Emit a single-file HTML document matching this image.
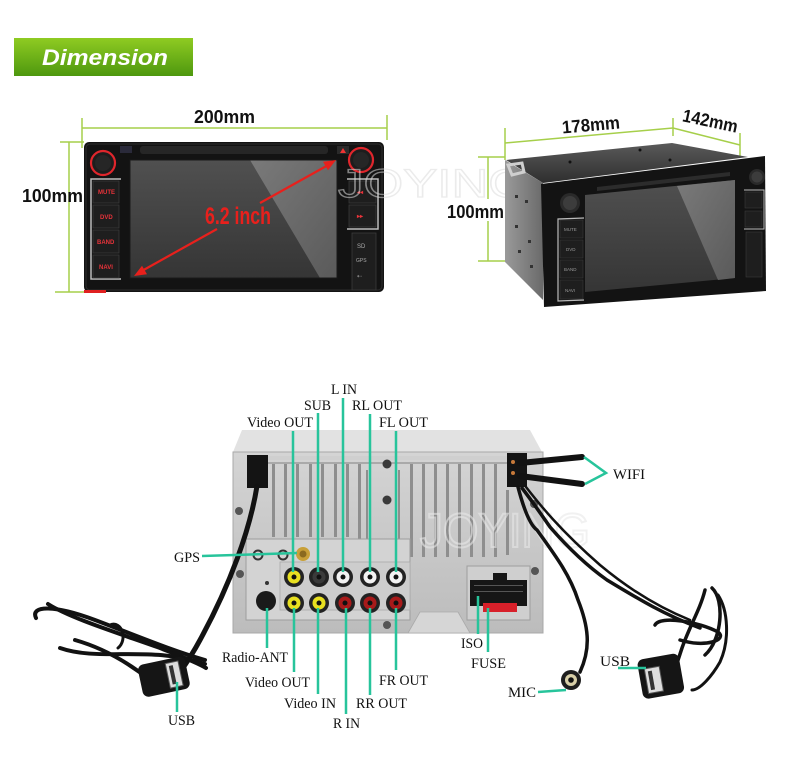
<!DOCTYPE html>
<html><head><meta charset="utf-8"><style>
html,body{margin:0;padding:0;background:#fff;}
svg{display:block}
.lb{font-family:"Liberation Serif",serif;font-size:15px;fill:#111;}
.dm{font-family:"Liberation Sans",sans-serif;font-weight:bold;font-size:18px;fill:#111;}
.bt{font-family:"Liberation Sans",sans-serif;font-weight:bold;font-size:6px;fill:#e8333a;}
</style></head><body>
<svg width="800" height="766" viewBox="0 0 800 766" xmlns="http://www.w3.org/2000/svg">
<defs>
<linearGradient id="ban" x1="0" y1="0" x2="0" y2="1"><stop offset="0" stop-color="#8fcb22"/><stop offset="1" stop-color="#4e980f"/></linearGradient>
<linearGradient id="scr" x1="0" y1="0" x2="0" y2="1"><stop offset="0" stop-color="#505050"/><stop offset="1" stop-color="#353535"/></linearGradient>
<linearGradient id="scrl" x1="0" y1="0" x2="1" y2="1"><stop offset="0" stop-color="#7a7a7a"/><stop offset="1" stop-color="#5a5a5a"/></linearGradient>
<linearGradient id="metal" x1="0" y1="0" x2="0" y2="1"><stop offset="0" stop-color="#d4d4d4"/><stop offset="1" stop-color="#bcbcbc"/></linearGradient>
<linearGradient id="side" x1="0" y1="0" x2="1" y2="0"><stop offset="0" stop-color="#9a9a9a"/><stop offset="1" stop-color="#6a6a6a"/></linearGradient>
<linearGradient id="top2" x1="0" y1="0" x2="0" y2="1"><stop offset="0" stop-color="#5a5a5a"/><stop offset="1" stop-color="#2e2e2e"/></linearGradient>
</defs>

<!-- Banner -->
<rect x="14" y="38" width="179" height="38" fill="url(#ban)"/>
<text x="42" y="65" font-family="Liberation Sans,sans-serif" font-weight="bold" font-style="italic" font-size="22" fill="#fff" textLength="126" lengthAdjust="spacingAndGlyphs">Dimension</text>

<!-- ===== Front unit 1 ===== -->
<g stroke="#a6cf4a" stroke-width="1.5" fill="none">
<line x1="82" y1="128" x2="387" y2="128"/>
<line x1="82" y1="118" x2="82" y2="148"/>
<line x1="387" y1="115" x2="387" y2="140"/>
<line x1="69" y1="142" x2="69" y2="292"/>
<line x1="60" y1="142" x2="84" y2="142"/>
<line x1="55" y1="292" x2="84" y2="292"/>
</g>
<text class="dm" x="194" y="123" textLength="61" lengthAdjust="spacingAndGlyphs">200mm</text>
<text class="dm" x="22" y="202" textLength="61" lengthAdjust="spacingAndGlyphs">100mm</text>

<rect x="84" y="142" width="300" height="150" rx="5" fill="#131313"/>
<rect x="86" y="144" width="296" height="146" rx="4" fill="none" stroke="#2c2c2c" stroke-width="1"/>
<rect x="84" y="290" width="22" height="3" fill="#e02020"/>
<rect x="140" y="146" width="188" height="8" rx="3" fill="#262626"/>
<rect x="120" y="146" width="12" height="7" fill="#2a2a3a"/>
<rect x="337" y="146" width="12" height="8" fill="#2a2a2a"/>
<polygon points="343,148 346,153 340,153" fill="#e33"/>
<rect x="130" y="160" width="207" height="118" fill="url(#scr)"/>
<polygon points="250,160 337,160 337,278 320,278" fill="url(#scrl)"/>
<rect x="130" y="160" width="207" height="118" fill="none" stroke="#1a1a1a" stroke-width="1"/>
<circle cx="103" cy="163" r="12" fill="#1d1d1d" stroke="#e0262c" stroke-width="2.2"/>
<circle cx="103" cy="163" r="8" fill="#262626"/>
<circle cx="361" cy="160" r="12" fill="#1d1d1d" stroke="#e0262c" stroke-width="2.2"/>
<circle cx="361" cy="160" r="8" fill="#262626"/>
<path d="M121,179 L91,179 L91,279 L121,279" fill="none" stroke="#bdbdbd" stroke-width="1.5"/>
<g fill="#1e1e1e" stroke="#3a3a3a" stroke-width="0.8">
<rect x="93" y="181" width="26" height="22"/>
<rect x="93" y="205" width="26" height="23"/>
<rect x="93" y="230" width="26" height="23"/>
<rect x="93" y="255" width="26" height="23"/>
</g>
<text class="bt" x="98" y="194">MUTE</text>
<text class="bt" x="100" y="219">DVD</text>
<text class="bt" x="97" y="244">BAND</text>
<text class="bt" x="99" y="269">NAVI</text>
<path d="M347,179 L378,179 L378,229 L347,229" fill="none" stroke="#bdbdbd" stroke-width="1.5"/>
<g fill="#1e1e1e" stroke="#3a3a3a" stroke-width="0.8">
<rect x="349" y="181" width="27" height="22"/>
<rect x="349" y="205" width="27" height="22"/>
<rect x="352" y="233" width="24" height="57"/>
</g>
<text class="bt" x="357" y="194">◂◂</text>
<text class="bt" x="357" y="218">▸▸</text>
<text x="357" y="248" font-family="Liberation Sans,sans-serif" font-size="6" fill="#aaa">SD</text>
<text x="356" y="262" font-family="Liberation Sans,sans-serif" font-size="5" fill="#aaa">GPS</text>
<text x="357" y="278" font-family="Liberation Sans,sans-serif" font-size="6" fill="#aaa">⇠</text>
<g stroke="#e8201c" stroke-width="2.2">
<line x1="140" y1="272" x2="217" y2="229"/>
<line x1="260" y1="203" x2="330" y2="164"/>
</g>
<polygon points="134,276 147,274.3 142,265.7" fill="#e8201c"/>
<polygon points="336,160 328,170.3 323,161.7" fill="#e8201c"/>
<text x="205" y="224" font-family="Liberation Sans,sans-serif" font-weight="bold" font-size="24" fill="#e8201c" textLength="66" lengthAdjust="spacingAndGlyphs">6.2 inch</text>

<text x="338" y="197" font-family="Liberation Sans,sans-serif" font-size="40" fill="none" stroke="#dcdcdc" stroke-width="1.3" textLength="190" lengthAdjust="spacingAndGlyphs" opacity="0.55">JOYING</text>

<!-- ===== Unit 2 ===== -->
<g stroke="#a6cf4a" stroke-width="1.5" fill="none">
<line x1="505" y1="143" x2="673" y2="128"/>
<line x1="673" y1="128" x2="740" y2="145"/>
<line x1="505" y1="128" x2="505" y2="160"/>
<line x1="673" y1="118" x2="673" y2="136"/>
<line x1="740" y1="133" x2="740" y2="158"/>
<line x1="488" y1="157" x2="488" y2="199"/>
<line x1="488" y1="221" x2="488" y2="261"/>
<line x1="478" y1="157" x2="505" y2="157"/>
<line x1="478" y1="261" x2="505" y2="261"/>
</g>
<text class="dm" x="562" y="131" font-size="17" textLength="58" lengthAdjust="spacingAndGlyphs" transform="rotate(-5 591 126)">178mm</text>
<text class="dm" x="682" y="127" font-size="17" textLength="56" lengthAdjust="spacingAndGlyphs" transform="rotate(12 710 122)">142mm</text>
<text class="dm" x="447" y="218" font-size="17" textLength="57" lengthAdjust="spacingAndGlyphs">100mm</text>

<polygon points="506,160 672,143 748,157 543,183" fill="url(#top2)"/>
<circle cx="570" cy="162" r="1.5" fill="#111"/><circle cx="640" cy="150" r="1.5" fill="#111"/><circle cx="670" cy="160" r="1.5" fill="#111"/>
<polygon points="505,160 543,183 543,300 505,262" fill="url(#side)"/>
<path d="M508,165 L522,163 L524,172 L512,175 Z" fill="none" stroke="#cfcfcf" stroke-width="3"/>
<g fill="#333"><rect x="515" y="195" width="3" height="3"/><rect x="525" y="200" width="3" height="3"/><rect x="515" y="225" width="3" height="3"/><rect x="528" y="240" width="3" height="3"/><rect x="518" y="250" width="3" height="3"/><rect x="530" y="265" width="3" height="3"/></g>
<polygon points="541,184 765,156 766,291 544,307" fill="#131313"/>
<polygon points="597,187 730,172 730,176 597,191" fill="#2c2c2c"/>
<polygon points="585,195 735,180 735,278 585,292" fill="url(#scr)"/>
<polygon points="677,186 735,180 735,278 718,280" fill="url(#scrl)"/>
<circle cx="570" cy="203" r="10" fill="#2a2a2a"/><circle cx="570" cy="203" r="7" fill="#3c3c3c"/>
<circle cx="757" cy="177" r="8" fill="#2a2a2a"/><circle cx="757" cy="177" r="5.5" fill="#3c3c3c"/>
<path d="M584,218 L558,219 L558,301 L584,300" fill="none" stroke="#bbb" stroke-width="1.2"/>
<g fill="#1e1e1e" stroke="#3a3a3a" stroke-width="0.6">
<rect x="560" y="220" width="23" height="18"/>
<rect x="560" y="240" width="23" height="18"/>
<rect x="560" y="260" width="23" height="18"/>
<rect x="560" y="280" width="23" height="19"/>
<rect x="745" y="192" width="17" height="16"/>
<rect x="745" y="211" width="17" height="16"/>
<rect x="746" y="232" width="16" height="45"/>
</g>
<path d="M744,190 L764,190 L764,229 L744,229" fill="none" stroke="#bbb" stroke-width="1"/>
<g font-family="Liberation Sans,sans-serif" font-size="4.5" fill="#999">
<text x="564" y="231">MUTE</text><text x="566" y="251">DVD</text><text x="564" y="271">BAND</text><text x="565" y="292">NAVI</text>
</g>

<!-- ===== Rear unit ===== -->
<polygon points="242,430 530,430 542,452 233,452" fill="#e2e2e2"/>
<rect x="233" y="452" width="310" height="181" fill="url(#metal)"/>
<rect x="233" y="452" width="310" height="181" fill="none" stroke="#a8a8a8" stroke-width="1"/>
<rect x="250" y="456" width="280" height="4" fill="#cfcfcf"/>
<g fill="#8e8e8e">
<rect x="272" y="462" width="3" height="75"/><rect x="284" y="462" width="3" height="75"/><rect x="296" y="462" width="3" height="75"/><rect x="309" y="462" width="3" height="75"/><rect x="321" y="462" width="3" height="75"/><rect x="334" y="462" width="3" height="75"/><rect x="346" y="462" width="3" height="75"/><rect x="358" y="462" width="3" height="85"/>
<rect x="366" y="470" width="2" height="85"/><rect x="398" y="470" width="2" height="85"/>
<rect x="410" y="462" width="3" height="95"/><rect x="422" y="462" width="3" height="95"/><rect x="434" y="462" width="3" height="95"/><rect x="446" y="462" width="3" height="95"/><rect x="458" y="462" width="3" height="95"/><rect x="470" y="462" width="3" height="95"/><rect x="482" y="462" width="3" height="95"/><rect x="494" y="462" width="3" height="95"/><rect x="506" y="490" width="3" height="65"/>
</g>
<rect x="262" y="462" width="250" height="2" fill="#aaa"/>
<circle cx="387" cy="464" r="4.5" fill="#3a3a3a"/>
<circle cx="387" cy="500" r="4.5" fill="#3a3a3a"/>
<circle cx="387" cy="543" r="4.5" fill="#3a3a3a"/>
<circle cx="239" cy="511" r="4" fill="#555"/><circle cx="240" cy="574" r="4" fill="#555"/>
<circle cx="534" cy="504" r="4" fill="#555"/><circle cx="535" cy="571" r="4" fill="#555"/>
<circle cx="387" cy="625" r="4" fill="#555"/>
<rect x="246" y="539" width="164" height="81" fill="#d3d3d3" stroke="#9e9e9e" stroke-width="1"/>
<rect x="280" y="562" width="130" height="48" fill="#cdcdcd" stroke="#aaa" stroke-width="0.8"/>
<rect x="467" y="566" width="63" height="54" fill="#cfcfcf" stroke="#9e9e9e" stroke-width="1"/>
<rect x="470" y="580" width="57" height="26" fill="#161616"/>
<rect x="493" y="573" width="14" height="8" fill="#161616"/>
<rect x="483" y="603" width="34" height="9" fill="#d8202a"/>
<g fill="#555"><rect x="474" y="585" width="49" height="1"/><rect x="474" y="591" width="49" height="1"/></g>
<polygon points="408,633 420,612 458,612 470,633" fill="#d6d6d6" stroke="#aaa" stroke-width="0.8"/>
<rect x="247" y="455" width="21" height="33" fill="#141414"/>
<rect x="507" y="453" width="20" height="34" fill="#141414"/>
<circle cx="513" cy="462" r="2" fill="#c87a3a"/><circle cx="513" cy="473" r="2" fill="#c87a3a"/>
<circle cx="258" cy="555" r="4.5" fill="none" stroke="#333" stroke-width="2"/>
<circle cx="283" cy="555" r="4.5" fill="none" stroke="#333" stroke-width="2"/>
<circle cx="303" cy="554" r="7" fill="#c8a038"/><circle cx="303" cy="554" r="3.5" fill="#8a6a20"/>
<circle cx="266" cy="601" r="10" fill="#1a1a1a"/>
<circle cx="267" cy="583" r="2" fill="#333"/>
<g>
<circle cx="294" cy="577" r="10" fill="#222"/><circle cx="294" cy="577" r="6.5" fill="#e8e020"/><circle cx="294" cy="577" r="2.5" fill="#111"/>
<circle cx="319" cy="577" r="10" fill="#222"/><circle cx="319" cy="577" r="6.5" fill="#3a3a3a"/><circle cx="319" cy="577" r="2.5" fill="#111"/>
<circle cx="343" cy="577" r="10" fill="#222"/><circle cx="343" cy="577" r="6.5" fill="#f2f2f2"/><circle cx="343" cy="577" r="2.5" fill="#111"/>
<circle cx="370" cy="577" r="10" fill="#222"/><circle cx="370" cy="577" r="6.5" fill="#f2f2f2"/><circle cx="370" cy="577" r="2.5" fill="#111"/>
<circle cx="396" cy="577" r="10" fill="#222"/><circle cx="396" cy="577" r="6.5" fill="#f2f2f2"/><circle cx="396" cy="577" r="2.5" fill="#111"/>
<circle cx="294" cy="603" r="10" fill="#222"/><circle cx="294" cy="603" r="6.5" fill="#e8e020"/><circle cx="294" cy="603" r="2.5" fill="#111"/>
<circle cx="319" cy="603" r="10" fill="#222"/><circle cx="319" cy="603" r="6.5" fill="#e8e020"/><circle cx="319" cy="603" r="2.5" fill="#111"/>
<circle cx="345" cy="603" r="10" fill="#222"/><circle cx="345" cy="603" r="6.5" fill="#a81a1a"/><circle cx="345" cy="603" r="2.5" fill="#111"/>
<circle cx="370" cy="603" r="10" fill="#222"/><circle cx="370" cy="603" r="6.5" fill="#a81a1a"/><circle cx="370" cy="603" r="2.5" fill="#111"/>
<circle cx="396" cy="603" r="10" fill="#222"/><circle cx="396" cy="603" r="6.5" fill="#a81a1a"/><circle cx="396" cy="603" r="2.5" fill="#111"/>
</g>
<text x="420" y="547" font-family="Liberation Sans,sans-serif" font-size="48" fill="none" stroke="#e8e8e8" stroke-width="2" textLength="170" lengthAdjust="spacingAndGlyphs" opacity="0.6">JOYING</text>

<!-- cables -->
<g fill="none" stroke="#121212" stroke-linecap="round">
<path d="M257,486 C250,530 230,585 200,640 C192,655 185,665 180,672" stroke-width="5"/>
<path d="M48,604 C70,618 115,632 160,648 C180,656 196,662 206,668" stroke-width="4"/>
<path d="M36,618 C30,605 55,605 95,620 C135,635 170,650 205,660" stroke-width="4"/>
<path d="M60,648 C100,662 150,645 205,664" stroke-width="4"/>
<path d="M75,640 C110,650 135,668 150,680" stroke-width="4"/>
<path d="M110,625 C122,620 128,640 118,648" stroke-width="3"/>
<!-- right: MIC cable -->
<path d="M518,487 C524,510 530,525 537,530 C555,555 570,575 578,600 C590,630 590,650 580,672" stroke-width="3.5"/>
<!-- right: USB cable -->
<path d="M522,488 C535,505 545,520 550,527 C570,550 590,568 607,580 C640,600 665,615 700,628" stroke-width="3.5"/>
<path d="M526,487 C540,505 560,530 600,565 C630,590 660,608 690,620" stroke-width="2.5"/>
<path d="M705,590 C700,610 690,625 682,648 C678,660 675,670 672,678" stroke-width="3.5"/>
<path d="M712,588 C725,600 722,640 705,655" stroke-width="3.5"/>
<path d="M655,625 C660,615 700,622 718,632 C728,640 705,648 680,640" stroke-width="3.5"/>
<path d="M718,595 C728,610 730,640 720,662 C712,676 700,690 692,690" stroke-width="3"/>
<path d="M520,463 L582,457" stroke-width="6"/>
<path d="M520,476 L582,484" stroke-width="6"/>
</g>
<g transform="rotate(-12 165 677)">
<rect x="140" y="660" width="48" height="33" rx="6" fill="#151515"/>
<rect x="168" y="664" width="13" height="25" fill="#ddd" stroke="#555" stroke-width="1"/>
<rect x="171" y="667" width="4" height="19" fill="#333"/>
</g>
<g transform="rotate(-10 662 677)">
<rect x="640" y="656" width="42" height="40" rx="6" fill="#151515"/>
<rect x="646" y="666" width="15" height="25" fill="#ddd" stroke="#555" stroke-width="1"/>
<rect x="649" y="669" width="4" height="19" fill="#333"/>
</g>
<circle cx="571" cy="680" r="10" fill="#1e1e1e"/>
<circle cx="571" cy="680" r="6" fill="#d8cfa8"/>
<circle cx="571" cy="680" r="2.8" fill="#111"/>

<!-- leader lines -->
<g stroke="#27c49b" stroke-width="2.5" fill="none">
<line x1="343" y1="398" x2="343" y2="572"/>
<line x1="318" y1="413" x2="318" y2="572"/>
<line x1="370" y1="414" x2="370" y2="572"/>
<line x1="293" y1="431" x2="293" y2="572"/>
<line x1="396" y1="431" x2="396" y2="572"/>
<line x1="202" y1="556" x2="297" y2="553"/>
<line x1="267" y1="608" x2="267" y2="648"/>
<line x1="294" y1="608" x2="294" y2="672"/>
<line x1="318" y1="608" x2="318" y2="694"/>
<line x1="346" y1="608" x2="346" y2="714"/>
<line x1="370" y1="608" x2="370" y2="695"/>
<line x1="396" y1="608" x2="396" y2="670"/>
<line x1="177" y1="682" x2="177" y2="712"/>
<line x1="478" y1="596" x2="478" y2="634"/>
<line x1="488" y1="608" x2="488" y2="652"/>
<line x1="538" y1="692" x2="566" y2="690"/>
<line x1="618" y1="668" x2="646" y2="668"/>
<polyline points="584,457 606,473 585,484"/>
</g>

<!-- labels -->
<text class="lb" x="331" y="394" textLength="26" lengthAdjust="spacingAndGlyphs">L IN</text>
<text class="lb" x="304" y="410" textLength="27" lengthAdjust="spacingAndGlyphs">SUB</text>
<text class="lb" x="352" y="410" textLength="50" lengthAdjust="spacingAndGlyphs">RL OUT</text>
<text class="lb" x="247" y="427" textLength="66" lengthAdjust="spacingAndGlyphs">Video OUT</text>
<text class="lb" x="379" y="427" textLength="49" lengthAdjust="spacingAndGlyphs">FL OUT</text>
<text class="lb" x="174" y="562" textLength="26" lengthAdjust="spacingAndGlyphs">GPS</text>
<text class="lb" x="613" y="479" textLength="32" lengthAdjust="spacingAndGlyphs">WIFI</text>
<text class="lb" x="222" y="662" textLength="66" lengthAdjust="spacingAndGlyphs">Radio-ANT</text>
<text class="lb" x="245" y="687" textLength="65" lengthAdjust="spacingAndGlyphs">Video OUT</text>
<text class="lb" x="284" y="708" textLength="52" lengthAdjust="spacingAndGlyphs">Video IN</text>
<text class="lb" x="333" y="728" textLength="27" lengthAdjust="spacingAndGlyphs">R IN</text>
<text class="lb" x="356" y="708" textLength="51" lengthAdjust="spacingAndGlyphs">RR OUT</text>
<text class="lb" x="379" y="685" textLength="49" lengthAdjust="spacingAndGlyphs">FR OUT</text>
<text class="lb" x="168" y="725" textLength="27" lengthAdjust="spacingAndGlyphs">USB</text>
<text class="lb" x="461" y="648" textLength="22" lengthAdjust="spacingAndGlyphs">ISO</text>
<text class="lb" x="471" y="668" textLength="35" lengthAdjust="spacingAndGlyphs">FUSE</text>
<text class="lb" x="508" y="697" textLength="28" lengthAdjust="spacingAndGlyphs">MIC</text>
<text class="lb" x="600" y="666" textLength="30" lengthAdjust="spacingAndGlyphs">USB</text>
</svg>
</body></html>
